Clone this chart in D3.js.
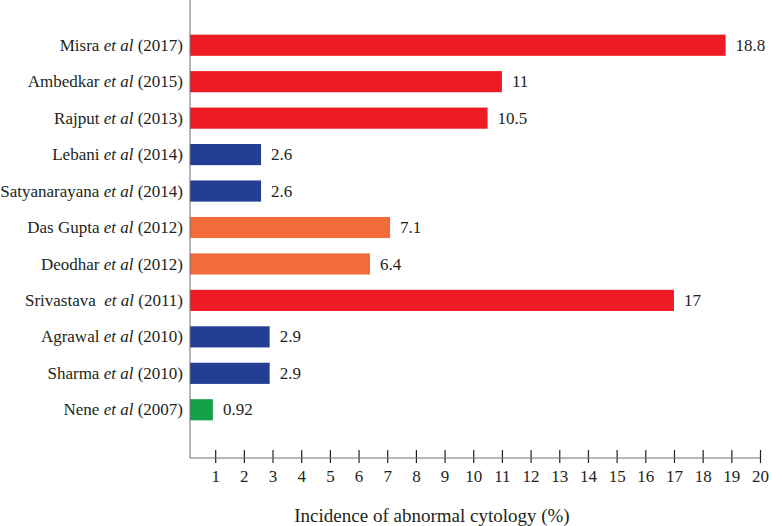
<!DOCTYPE html>
<html><head><meta charset="utf-8">
<script src="https://cdn.jsdelivr.net/npm/d3@7"></script>
</head>
<body style="margin:0;background:#fff">
<svg id="chart" width="772" height="526" font-family="Liberation Serif"></svg>
<script>
const names = ["Misra","Ambedkar","Rajput","Lebani","Satyanarayana","Das Gupta","Deodhar","Srivastava\u00a0","Agrawal","Sharma","Nene"];
const years = ["2017","2015","2013","2014","2014","2012","2012","2011","2010","2010","2007"];
const values = [18.8,11,10.5,2.6,2.6,7.1,6.4,17,2.9,2.9,0.92];
const valueLabels = ["18.8","11","10.5","2.6","2.6","7.1","6.4","17","2.9","2.9","0.92"];
const groups = ["red","red","red","blue","blue","orange","orange","red","blue","blue","green"];
const xTicks = [1,2,3,4,5,6,7,8,9,10,11,12,13,14,15,16,17,18,19,20];
const axisTitle = "Incidence of abnormal cytology (%)";

const colors = {red:"#ED1C24", blue:"#233E92", orange:"#F26B3A", green:"#16A04A"};
const FONT = "Liberation Serif";
const TXT = "#231f20";

const svg = d3.select("#chart");
const x = d3.scaleLinear().domain([0,20]).range([186.5,760]);
const y = d3.scaleBand().domain(d3.range(names.length)).range([27,428]).paddingInner(0.42).paddingOuter(0.21);
const axisX = 190, axisY = 458;

svg.selectAll("rect.bar").data(values).join("rect")
  .attr("class","bar")
  .attr("x", axisX)
  .attr("y", (d,i)=>y(i))
  .attr("width", d=>x(d)-axisX)
  .attr("height", y.bandwidth())
  .attr("fill", (d,i)=>colors[groups[i]]);

svg.selectAll("text.val").data(values).join("text")
  .attr("class","val")
  .attr("x", d=>x(d)+10)
  .attr("y", (d,i)=>y(i)+y.bandwidth()/2)
  .attr("dy","0.33em")
  .attr("font-family",FONT).attr("fill",TXT)
  .attr("font-size",17)
  .text((d,i)=>valueLabels[i]);

const cl = svg.selectAll("text.cat").data(names).join("text")
  .attr("class","cat")
  .attr("x",183)
  .attr("y",(d,i)=>y(i)+y.bandwidth()/2)
  .attr("dy","0.33em")
  .attr("text-anchor","end")
  .attr("font-family",FONT).attr("fill",TXT)
  .attr("font-size",17);
cl.append("tspan").text(d=>d+" ");
cl.append("tspan").attr("font-style","italic").text("et al");
cl.append("tspan").text((d,i)=>" ("+years[i]+")");

svg.append("line").attr("x1",axisX).attr("x2",axisX).attr("y1",0).attr("y2",axisY)
  .attr("stroke","#6d6e71").attr("stroke-width",1);

const xa = d3.axisBottom(x).tickValues(xTicks).tickSize(0).tickPadding(0).tickFormat(d3.format("d"));
const g = svg.append("g").attr("transform",`translate(0,${axisY})`).call(xa);
g.attr("font-family",FONT).attr("font-size",17);
g.select(".domain").remove();
g.append("line").attr("x1",axisX).attr("x2",x(20)).attr("y1",0).attr("y2",0).attr("stroke","#6d6e71");
g.selectAll(".tick line").attr("y1",-8).attr("y2",5).attr("stroke",TXT).attr("stroke-width",1.2);
g.selectAll(".tick text").attr("y",24).attr("dy",null)
  .attr("font-family",FONT).attr("font-size",17).attr("fill",TXT);

svg.append("text").attr("x",432).attr("y",522).attr("text-anchor","middle")
  .attr("font-family",FONT).attr("fill",TXT)
  .attr("font-size",19).text(axisTitle);
</script></body></html>
